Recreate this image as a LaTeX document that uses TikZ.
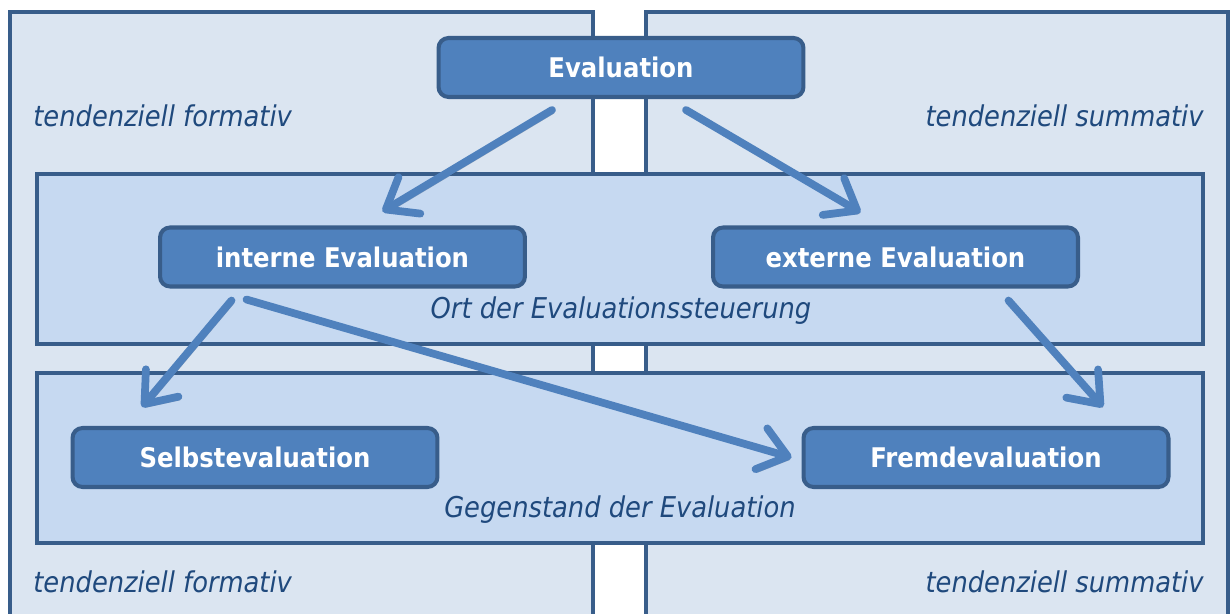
\documentclass[tikz,border=0pt]{standalone}
\usepackage{fontspec}
\setmainfont{DejaVu Sans Condensed}[BoldFont={DejaVu Sans Condensed Bold}, ItalicFont={DejaVu Sans Condensed Oblique}]
\usetikzlibrary{arrows.meta,calc}

\definecolor{panelfill}{HTML}{DBE5F1}
\definecolor{bandfill}{HTML}{C6D9F1}
\definecolor{boxfill}{HTML}{4F81BD}
\definecolor{boxborder}{HTML}{385D8A}
\definecolor{labeltext}{HTML}{1F497D}

\begin{document}
\begin{tikzpicture}[x=0.02cm,y=-0.02cm,
	panel/.style={draw=boxborder, line width=1.8pt, fill=panelfill},
	band/.style={draw=boxborder, line width=1.8pt, fill=bandfill},
	evalbox/.style={draw=boxborder, line width=2.3pt, fill=boxfill, rounded corners=0.2cm,
		minimum width=7.3cm, minimum height=1.18cm, text=white, font=\bfseries\fontsize{15.4}{18}\selectfont},
	sidelabel/.style={text=labeltext, inner sep=0pt, font=\itshape\fontsize{16.3}{19}\selectfont},
	flow/.style={draw=boxfill, line width=4.4pt, line cap=round, -{Straight Barb[round,length=0.55cm,width=0.85cm]},
		preaction={draw=black, opacity=0.2, transform canvas={shift={(1.2pt,-1.8pt)}}}}]

	\useasboundingbox (0,0) rectangle (1230,614);

	%the two columns
	\begin{scope}
		\clip (0,0) rectangle (1230,614);
		\draw[panel] (10,12) rectangle (593,650);
		\draw[panel] (646,12) rectangle (1228,650);
	\end{scope}

	%the two bands
	\draw[band] (37,174) rectangle (1203,344);
	\draw[band] (37,373) rectangle (1203,543);

	%column and band labels
	\node[sidelabel, anchor=west] (formtop) at (33,116) {tendenziell formativ};
	\node[sidelabel, anchor=east] (summtop) at (1204,116) {tendenziell summativ};
	\node[sidelabel, anchor=west] (formbot) at (33,582) {tendenziell formativ};
	\node[sidelabel, anchor=east] (summbot) at (1204,582) {tendenziell summativ};
	\node[sidelabel] (ort) at (621,311) {Ort der Evaluationssteuerung};
	\node[sidelabel] (gegen) at (620,510) {Gegenstand der Evaluation};

	%boxes
	\node[evalbox] (eval) at (621,67.5) {Evaluation};
	\node[evalbox] (intern) at (342.5,257) {interne Evaluation};
	\node[evalbox] (extern) at (895.5,257) {externe Evaluation};
	\node[evalbox] (selbst) at (255,457.5) {Selbstevaluation};
	\node[evalbox] (fremd) at (986,457.5) {Fremdevaluation};

	%arrows
	\draw[flow] ($(eval.south)+(-69,11)$) -- ($(intern.north)+(40,-14)$);
	\draw[flow] ($(eval.south)+(65,11)$) -- ($(extern.north)+(-35,-13)$);
	\draw[flow] ($(intern.south)+(-111,12)$) -- ($(selbst.north)+(-113,-19)$);
	\draw[flow] ($(intern.south)+(-96,11)$) -- ($(fremd.west)+(-10,0)$);
	\draw[flow] ($(extern.south)+(113,12)$) -- ($(fremd.north)+(117,-19)$);

\end{tikzpicture}
\end{document}
